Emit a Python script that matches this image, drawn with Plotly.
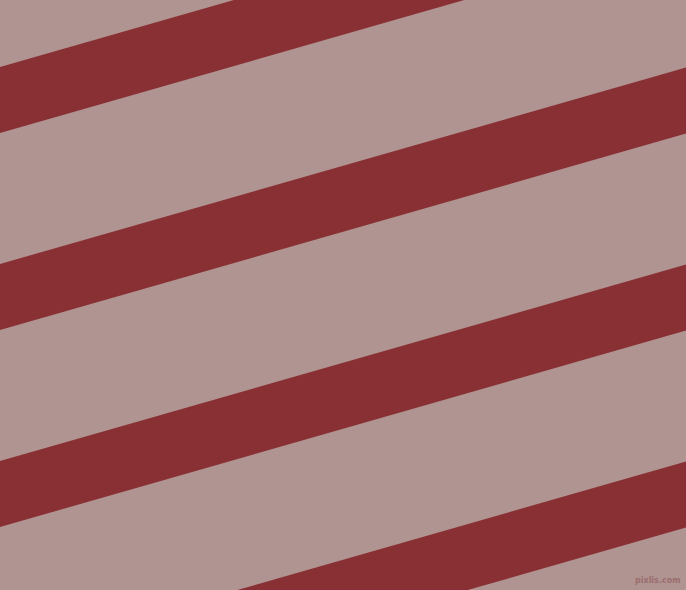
import plotly.graph_objects as go

# stripe data (top edge where it meets the left side, in pixels from top)
stripe_tops = [67, 264, 461, 658]
stripe_height = 66
stripe_slope = 0.2865
width = 686
height = 590

bg_color = "#B09491"
stripe_color = "#883033"

fig = go.Figure()

for top in stripe_tops:
    xs = [0, width, width, 0, 0]
    ys = [top, top - stripe_slope * width,
          top - stripe_slope * width + stripe_height, top + stripe_height, top]
    fig.add_trace(go.Scatter(x=xs, y=ys, mode="lines", fill="toself",
                             fillcolor=stripe_color, line=dict(width=0),
                             hoverinfo="skip", showlegend=False))

fig.add_annotation(text="<b>pixlis.com</b>", x=1, y=0, xref="paper", yref="paper",
                   xanchor="right", yanchor="bottom", xshift=-3, yshift=3,
                   showarrow=False,
                   font=dict(family="DejaVu Sans", size=8, color="#9A6E6F"))

fig.update_xaxes(range=[0, width], visible=False, fixedrange=True)
fig.update_yaxes(range=[height, 0], visible=False, fixedrange=True)
fig.update_layout(width=width, height=height,
                  margin=dict(l=0, r=0, t=0, b=0),
                  paper_bgcolor=bg_color, plot_bgcolor=bg_color)

# drop the default page margin so the chart fills the window
fig.write_html("out.html", config={"displayModeBar": False},
               post_script="document.body.style.margin='0';"
                           "document.body.style.overflow='hidden';")
